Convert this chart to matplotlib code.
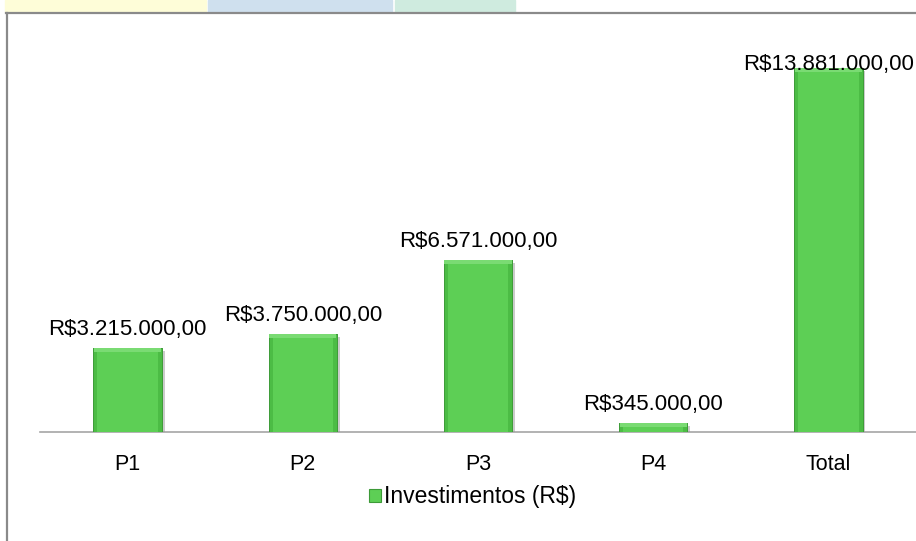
import matplotlib.pyplot as plt
import matplotlib.patheffects as pe
from matplotlib.patches import Rectangle
from matplotlib.lines import Line2D

# chart data
categories = ["P1", "P2", "P3", "P4", "Total"]
values = [3215000, 3750000, 6571000, 345000, 13881000]
series_name = "Investimentos (R$)"


def brl(v):
    # Brazilian currency format: R$3.215.000,00
    s = f"{v:,.2f}"
    s = s.replace(",", "X").replace(".", ",").replace("X", ".")
    return "R$" + s


W, H = 916, 541
fig = plt.figure(figsize=(W / 100, H / 100), dpi=100)
plt.rcParams['font.family'] = ['Liberation Sans', 'DejaVu Sans']

# coloured strips of the slide behind the chart
for x0, x1, c in [(5, 206, "#FEFDD8"), (208, 392, "#CFE0EE"), (395, 515, "#CFEBDF")]:
    fig.patches.append(Rectangle((x0 / W, 1 - 12 / H), (x1 - x0) / W, 12 / H,
                                 transform=fig.transFigure, color=c, zorder=0))
# chart frame (top and left edges)
fig.add_artist(Line2D([6 / W, 1], [1 - 12.5 / H, 1 - 12.5 / H], color="#8A8A8A", lw=1.6))
fig.add_artist(Line2D([6.5 / W, 6.5 / W], [0, 1 - 12.5 / H], color="#8A8A8A", lw=1.6))

ax = fig.add_axes([40 / W, (H - 432) / H, 1 - 40 / W, (432 - 39) / H])
ax.set_xlim(-0.5, len(categories) - 0.5)
ax.set_ylim(0, 15000000)

x = list(range(len(categories)))
bw = 0.39
band = 150000  # bevel band height in data units (~4 px)

# outer bar (darker sides) with a soft shadow
bars = ax.bar(x, values, width=bw, color="#4CBC45", edgecolor="#3D9A38", linewidth=0.6,
              label=series_name, zorder=3)
for b in bars:
    b.set_path_effects([pe.withSimplePatchShadow(offset=(2, -2), shadow_rgbFace="#999999", alpha=0.5),
                        pe.Normal()])
# light band along the top
ax.bar(x, [band] * len(values), bottom=[v - band for v in values], width=bw - 0.006,
       color="#7ADB73", linewidth=0, zorder=4)
# main face
ax.bar(x, [v - band for v in values], width=bw - 0.046, color="#5DCF55", linewidth=0, zorder=4)

for xi, v in zip(x, values):
    ax.text(xi, min(v + 480000, 13800000), brl(v), ha="center", va="baseline",
            fontsize=16, color="black", zorder=5)

ax.set_xticks(x)
ax.set_xticklabels(categories, fontsize=15.5)
ax.tick_params(axis="x", length=0, pad=16)
ax.set_yticks([])
for s in ["top", "right", "left"]:
    ax.spines[s].set_visible(False)
ax.spines["bottom"].set_color("#A6A6A6")
ax.spines["bottom"].set_linewidth(1.2)

handle = Rectangle((0, 0), 1, 1, facecolor="#5DCF55", edgecolor="#3D9A38", linewidth=0.8)
fig.legend([handle], [series_name], loc="center", bbox_to_anchor=(473 / W, 1 - 497 / H),
           frameon=False, fontsize=16.5, handlelength=0.5, handleheight=0.5, handletextpad=0.15)

fig.savefig("out.png", dpi=100)
